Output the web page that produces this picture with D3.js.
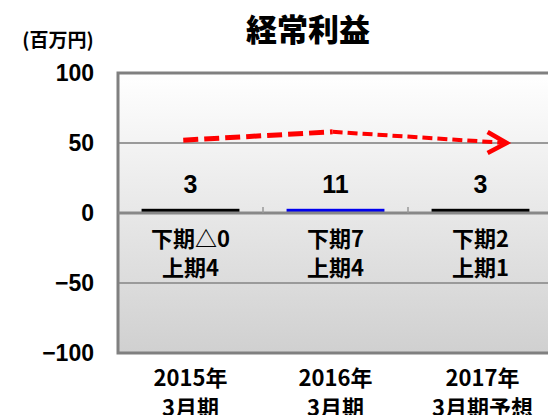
<html>
<head>
<meta charset="utf-8">
<title>経常利益</title>
<script src="https://d3js.org/d3.v7.min.js"></script>
<style>
  body { margin: 0; background: #fff; }
  text { font-family: "Noto Sans CJK JP", "Noto Sans", sans-serif; font-weight: bold; fill: #000; }
  .num { font-family: "Liberation Sans Narrow", "Liberation Sans", sans-serif; }
</style>
</head>
<body>
<div id="mychart"></div>
<script>
// data
var categories = ["2015年\n3月期", "2016年\n3月期", "2017年\n3月期予想"];
var profitLabels = [3, 11, 3];
// drawn bar heights as they appear in the picture (all the same thin bar)
var barValues = [3, 3, 3];
var barColors = ["#000000", "#0000ee", "#000000"];
var halfLabels = [["下期△0", "上期4"], ["下期7", "上期4"], ["下期2", "上期1"]];
var yTicks = [100, 50, 0, -50, -100];
var yTickLabels = ["100", "50", "0", "−50", "−100"];
// trend arrow (approximate) : value and position inside each band
var trendValues = [52, 58, 50];
var trendPos = [0.45, 0.48, 0.68];

var width = 548, height = 415;
var plotLeft = 118, plotRight = 553, plotTop = 73, plotBottom = 353;

var svg = d3.select("#mychart").append("svg")
  .attr("width", width).attr("height", height);

var defs = svg.append("defs");
var bg = defs.append("linearGradient").attr("id", "bg")
  .attr("x1", 0).attr("y1", 0).attr("x2", 0).attr("y2", 1);
bg.append("stop").attr("offset", "0%").attr("stop-color", "#ffffff");
bg.append("stop").attr("offset", "100%").attr("stop-color", "#d0d0d0");

var x = d3.scaleBand().domain(categories).range([plotLeft, plotRight]).padding(0);
var y = d3.scaleLinear().domain([-100, 100]).range([plotBottom, plotTop]);

// plot background
svg.append("rect")
  .attr("x", plotLeft).attr("y", plotTop)
  .attr("width", width - plotLeft + 5).attr("height", plotBottom - plotTop)
  .attr("fill", "url(#bg)");

// gridlines
svg.selectAll(".grid").data([50, -50]).enter().append("line")
  .attr("x1", plotLeft).attr("x2", width)
  .attr("y1", function(d) { return y(d); }).attr("y2", function(d) { return y(d); })
  .attr("stroke", "#9a9a9a").attr("stroke-width", 2);

// frame (left, top, bottom)
svg.append("path")
  .attr("d", "M" + width + "," + plotTop + "H" + plotLeft + "V" + plotBottom + "H" + width)
  .attr("fill", "none").attr("stroke", "#808080").attr("stroke-width", 3);

// bars
var barW = x.bandwidth() * 0.675;
svg.selectAll(".bar").data(barValues).enter().append("rect")
  .attr("x", function(d, i) { return x(categories[i]) + (x.bandwidth() - barW) / 2; })
  .attr("y", function(d) { return y(d); })
  .attr("width", barW)
  .attr("height", function(d) { return y(0) - y(d); })
  .attr("fill", function(d, i) { return barColors[i]; });

// zero axis with tick marks
svg.append("line")
  .attr("x1", plotLeft).attr("x2", width)
  .attr("y1", y(0)).attr("y2", y(0))
  .attr("stroke", "#888").attr("stroke-width", 3);
svg.selectAll(".tk").data(categories.slice(1)).enter().append("line")
  .attr("x1", function(d) { return x(d); }).attr("x2", function(d) { return x(d); })
  .attr("y1", y(0) - 6).attr("y2", y(0))
  .attr("stroke", "#999").attr("stroke-width", 1.5);

// y labels
svg.selectAll(".ylab").data(yTicks).enter().append("text")
  .attr("class", "num")
  .attr("x", 94).attr("y", function(d) { return y(d); })
  .attr("dy", "0.36em")
  .attr("text-anchor", "end")
  .style("font-size", "23px")
  .text(function(d, i) { return yTickLabels[i]; });

// value labels
svg.selectAll(".val").data(profitLabels).enter().append("text")
  .attr("class", "num")
  .attr("x", function(d, i) { return x(categories[i]) + x.bandwidth() / 2; })
  .attr("y", 184)
  .attr("dy", "0.36em")
  .attr("text-anchor", "middle")
  .style("font-size", "25px")
  .text(function(d) { return d; });

// half year breakdown
halfLabels.forEach(function(pair, i) {
  pair.forEach(function(t, j) {
    svg.append("text")
      .attr("x", x(categories[i]) + x.bandwidth() / 2)
      .attr("y", 239 + j * 29)
      .attr("dy", "0.35em")
      .attr("text-anchor", "middle")
      .style("font-size", "22px")
      .text(t);
  });
});

// category labels
categories.forEach(function(c, i) {
  c.split("\n").forEach(function(t, j) {
    svg.append("text")
      .attr("x", x(c) + x.bandwidth() / 2 + (i == 2 ? 2 : 0))
      .attr("y", 378 + j * 30)
      .attr("dy", "0.35em")
      .attr("text-anchor", "middle")
      .style("font-size", "22px")
      .text(t);
  });
});

// trend arrow
var pts = trendValues.map(function(v, i) {
  return [x(categories[i]) + x.bandwidth() * trendPos[i], y(v)];
});
svg.append("line")
  .attr("x1", pts[0][0]).attr("y1", pts[0][1])
  .attr("x2", pts[1][0]).attr("y2", pts[1][1])
  .attr("stroke", "#ff0000").attr("stroke-width", 5)
  .attr("stroke-dasharray", "15,6");
svg.append("line")
  .attr("x1", pts[1][0]).attr("y1", pts[1][1])
  .attr("x2", pts[2][0]).attr("y2", pts[2][1])
  .attr("stroke", "#ff0000").attr("stroke-width", 4)
  .attr("stroke-dasharray", "10,5");
var e = pts[2];
svg.append("path")
  .attr("d", "M" + (e[0] - 19) + "," + (e[1] - 11) + "L" + e[0] + "," + e[1] + "L" + (e[0] - 19) + "," + (e[1] + 10))
  .attr("fill", "none").attr("stroke", "#ff0000").attr("stroke-width", 4.5)
  .attr("stroke-linejoin", "miter");

// titles
svg.append("text")
  .attr("x", 308).attr("y", 30).attr("dy", "0.35em")
  .attr("text-anchor", "middle")
  .style("font-size", "31px").style("font-weight", "900")
  .text("経常利益");
svg.append("text")
  .attr("x", 58).attr("y", 40).attr("dy", "0.35em")
  .attr("text-anchor", "middle")
  .style("font-size", "19px")
  .text("(百万円)");
</script>
</body>
</html>
